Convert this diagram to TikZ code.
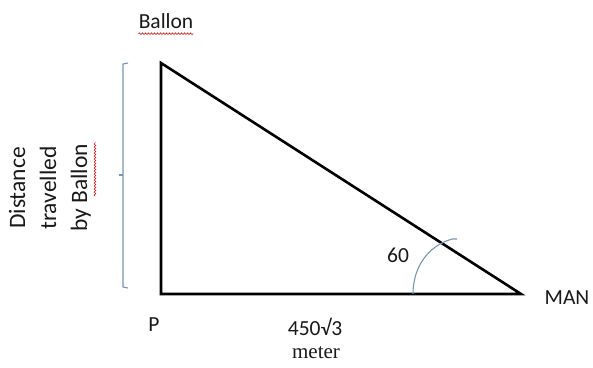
\documentclass[tikz,border=0pt]{standalone}
\usepackage{fontspec}
\setmainfont{Carlito}
\newfontfamily\serifx{Liberation Serif}
\usetikzlibrary{decorations.pathmorphing}
\definecolor{steelx}{RGB}{120,150,180}
\tikzset{
  lbl/.style={inner sep=0pt, font=\fontsize{21.5}{24}\selectfont, text=black!90},
  edge/.style={line width=2.6pt, line join=miter},
  thinblue/.style={draw=steelx, line width=1.1pt},
  spell/.style={draw=red!80!black, line width=0.5pt, decorate, decoration={snake, amplitude=0.9pt, segment length=3pt}}
}
\begin{document}
\begin{tikzpicture}[x=1pt,y=1pt]
\useasboundingbox (0,0) rectangle (593,367);
\coordinate (A) at (161,304);
\coordinate (P) at (161,73);
\coordinate (M) at (521,73);
\draw[edge] (A) -- (P) -- (M) -- cycle;
% bracket
\coordinate (b1) at (128,304);
\coordinate (b2) at (123,303);
\coordinate (b3) at (123,80);
\coordinate (b4) at (128,79);
\coordinate (bm) at (123,192);
\coordinate (bt) at (119,192);
\draw[thinblue] (b1) -- (b2) -- (b3) -- (b4);
\draw[thinblue] (bm) -- (bt);
% angle arc
\coordinate (r1) at (413,73);
\coordinate (r2) at (452,128);
\coordinate (r3) at (457,128);
\draw[thinblue] (r1) .. controls (413,100) and (428,121) .. (r2) -- (r3);
% labels
\node[lbl] (ballon) at (166,346) {Ballon};
\draw[spell] ([yshift=-5pt]ballon.south west) -- ([yshift=-5pt]ballon.south east);
\node[lbl, rotate=90, align=center, font=\fontsize{23.5}{31}\selectfont] (dist) at (50,179) {Distance\\travelled\\by Ballon};
\coordinate (s1) at (95,171);
\coordinate (s2) at (95,225);
\draw[spell] (s1) -- (s2);
\node[lbl] (man) at (567,69) {MAN};
\node[lbl] (p) at (154,42) {P};
\node[lbl] (sixty) at (398,112) {60};
\node[lbl] (len) at (315,40) {450\raisebox{0pt}{√}3};
\node[lbl, font=\serifx\fontsize{21}{24}\selectfont] (unit) at (316,14) {meter};
\end{tikzpicture}
\end{document}
